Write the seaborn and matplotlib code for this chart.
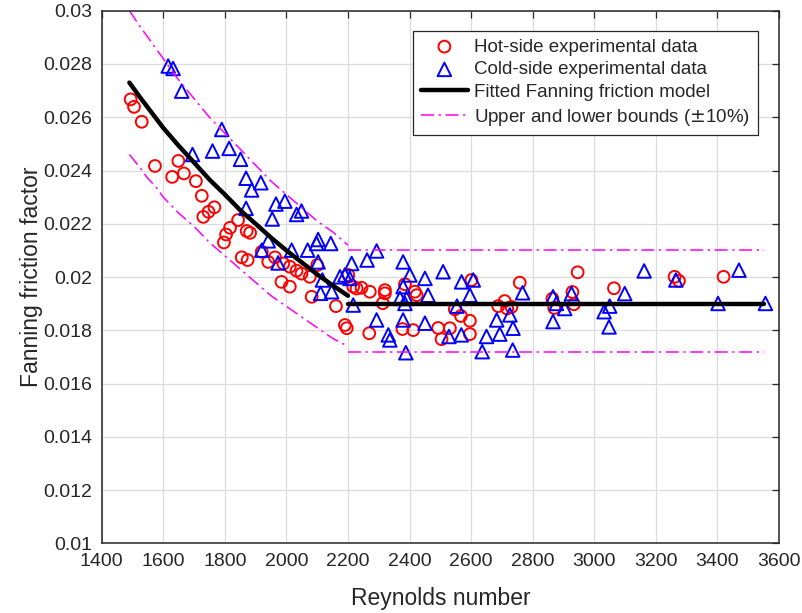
import matplotlib
matplotlib.use("Agg")
import matplotlib.pyplot as plt
from matplotlib.ticker import FuncFormatter, MultipleLocator
import seaborn as sns

# Values
hot_re = [1494, 1505, 1530, 1573, 1649, 1629, 1667, 1706, 1725, 1766, 1747, 1730,
          1843, 1817, 1804, 1797, 1871, 1882, 1855, 1874, 1920, 1941, 1963, 1990,
          2011, 2033, 2049, 2076, 2100, 1984, 2011, 2082, 2161, 2190, 2196, 2201,
          2217, 2228, 2244, 2271, 2320, 2320, 2385, 2417, 2423, 2313, 2269, 2377,
          2412, 2493, 2504, 2531, 2547, 2567, 2596, 2596, 2601, 2758, 2688, 2709,
          2717, 2731, 2864, 2870, 2929, 2934, 2946, 3064, 3261, 3275, 3420]
hot_f = [0.02667, 0.02639, 0.02583, 0.02417, 0.02436, 0.02376, 0.02389, 0.02360,
         0.02305, 0.02262, 0.02245, 0.02226, 0.02214, 0.02185, 0.02160, 0.02130,
         0.02173, 0.02166, 0.02074, 0.02064, 0.02095, 0.02057, 0.02074, 0.02051,
         0.02039, 0.02024, 0.02013, 0.02001, 0.02045, 0.01982, 0.01964, 0.01926,
         0.01891, 0.01820, 0.01808, 0.02008, 0.01964, 0.01957, 0.01960, 0.01945,
         0.01951, 0.01939, 0.01973, 0.01945, 0.01932, 0.01902, 0.01789, 0.01805,
         0.01801, 0.01809, 0.01767, 0.01808, 0.01879, 0.01854, 0.01836, 0.01786,
         0.01989, 0.01979, 0.01891, 0.01910, 0.01882, 0.01888, 0.01919, 0.01884,
         0.01944, 0.01898, 0.02018, 0.01958, 0.02001, 0.01986, 0.02001]

cold_re = [1616, 1632, 1660, 1790, 1695, 1760, 1814, 1851, 1869, 1917, 1887, 1869,
           1966, 1995, 1954, 2033, 2049, 2103, 2098, 2144, 1941, 1920, 2017, 2069,
           1973, 2103, 2117, 2111, 2147, 2174, 2206, 2190, 2212, 2217, 2262, 2293,
           2379, 2401, 2450, 2509, 2379, 2460, 2369, 2390, 2385, 2293, 2379, 2450,
           2331, 2336, 2388, 2528, 2568, 2569, 2607, 2596, 2554, 2683, 2726, 2736,
           2693, 2650, 2636, 2735, 2767, 2866, 2877, 2904, 2926, 2866, 3050, 3032,
           3048, 3099, 3162, 3265, 3402, 3470, 3556]
cold_f = [0.02792, 0.02783, 0.02698, 0.02554, 0.02460, 0.02473, 0.02483, 0.02442,
          0.02371, 0.02354, 0.02327, 0.02258, 0.02274, 0.02285, 0.02218, 0.02235,
          0.02248, 0.02141, 0.02126, 0.02126, 0.02136, 0.02101, 0.02101, 0.02101,
          0.02053, 0.02057, 0.01989, 0.01939, 0.01945, 0.02001, 0.01995, 0.02008,
          0.02051, 0.01895, 0.02064, 0.02098, 0.02057, 0.02008, 0.01995, 0.02020,
          0.01964, 0.01932, 0.01920, 0.01920, 0.01901, 0.01839, 0.01839, 0.01827,
          0.01783, 0.01764, 0.01716, 0.01777, 0.01783, 0.01982, 0.01989, 0.01932,
          0.01891, 0.01839, 0.01858, 0.01808, 0.01786, 0.01777, 0.01720, 0.01726,
          0.01941, 0.01926, 0.01901, 0.01882, 0.01938, 0.01833, 0.01891, 0.01870,
          0.01813, 0.01938, 0.02023, 0.01989, 0.01901, 0.02026, 0.01901]

# fitted model (curved part) and +-10% bounds
fit_re = [1490, 1525, 1550, 1575, 1600, 1650, 1700, 1750, 1800, 1850, 1900,
          1950, 2000, 2050, 2100, 2150, 2200]
fit_f = [0.0273, 0.02674, 0.02636, 0.02598, 0.0256, 0.02493, 0.0243, 0.02366,
         0.0231, 0.02251, 0.0220, 0.02148, 0.0210, 0.02055, 0.0201, 0.01969, 0.0193]
upper_f = [0.0300, 0.0294, 0.0290, 0.0286, 0.0282, 0.0274, 0.0267, 0.0260, 0.0254,
           0.0248, 0.0242, 0.0236, 0.0231, 0.0226, 0.0221, 0.0217, 0.0212]
lower_f = [0.0246, 0.0241, 0.0237, 0.0234, 0.0230, 0.0224, 0.0219, 0.0213, 0.0208,
           0.0203, 0.0198, 0.0193, 0.0189, 0.0185, 0.0181, 0.0177, 0.0174]

# flat part
flat_re = [2200, 3550]
flat_fit = [0.0190, 0.0190]
flat_upper = [0.0210, 0.0210]
flat_lower = [0.0172, 0.0172]

sns.set_style("white")
plt.rcParams['font.family'] = ['Liberation Sans', 'DejaVu Sans']

fig = plt.figure(figsize=(8.02, 6.13), dpi=100)
ax = fig.add_axes([0.1268, 0.1134, 0.8445, 0.8692])

dash_dot = (0, (8.5, 3, 1.5, 3))

sns.scatterplot(x=hot_re, y=hot_f, marker='o', s=72, facecolor='none',
                edgecolor='red', linewidth=1.4, label='Hot-side experimental data', ax=ax)
sns.scatterplot(x=cold_re, y=cold_f, marker='^', s=95, facecolor='none',
                edgecolor='blue', linewidth=1.4, label='Cold-side experimental data', ax=ax)

sns.lineplot(x=fit_re, y=fit_f, color='black', lw=3.2, sort=False, estimator=None,
             label='Fitted Fanning friction model', ax=ax)
sns.lineplot(x=flat_re, y=flat_fit, color='black', lw=3.2, sort=False, estimator=None, ax=ax)

sns.lineplot(x=fit_re, y=upper_f, color='magenta', lw=1.1, linestyle=dash_dot,
             sort=False, estimator=None, label='Upper and lower bounds ($\\pm$10%)', ax=ax)
sns.lineplot(x=fit_re, y=lower_f, color='magenta', lw=1.1, linestyle=dash_dot,
             sort=False, estimator=None, ax=ax)
sns.lineplot(x=flat_re, y=flat_upper, color='magenta', lw=1.1, linestyle=dash_dot,
             sort=False, estimator=None, ax=ax)
sns.lineplot(x=flat_re, y=flat_lower, color='magenta', lw=1.1, linestyle=dash_dot,
             sort=False, estimator=None, ax=ax)

ax.set_xlim(1400, 3600)
ax.set_ylim(0.01, 0.03)
ax.xaxis.set_major_locator(MultipleLocator(200))
ax.yaxis.set_major_locator(MultipleLocator(0.002))
ax.yaxis.set_major_formatter(FuncFormatter(lambda v, p: f"{v:g}"))

ax.grid(True, color='#dcdcdc', lw=0.9)
ax.set_axisbelow(True)
for sp in ax.spines.values():
    sp.set_color('#262626')
    sp.set_linewidth(1.1)
ax.tick_params(direction='in', top=True, right=True, length=5, width=0.9,
               labelsize=14, labelcolor='#262626', color='#262626', pad=7)

ax.set_xlabel("Reynolds number", fontsize=16.5, color='#262626', labelpad=12)
ax.set_ylabel("Fanning friction factor", fontsize=16.5, color='#262626', labelpad=0)

handles, labels = ax.get_legend_handles_labels()
order = ['Hot-side experimental data', 'Cold-side experimental data',
         'Fitted Fanning friction model', 'Upper and lower bounds ($\\pm$10%)']
hmap = dict(zip(labels, handles))
leg = ax.legend([hmap[k] for k in order], order, loc='upper right',
                bbox_to_anchor=(0.969, 0.962), borderaxespad=0, fontsize=13.5,
                frameon=True, fancybox=False, framealpha=1, edgecolor='#262626',
                handlelength=2.5, handletextpad=0.35, labelspacing=0.3,
                borderpad=0.4, scatterpoints=1)
leg.get_frame().set_linewidth(0.9)

fig.savefig("out.png", dpi=100)
